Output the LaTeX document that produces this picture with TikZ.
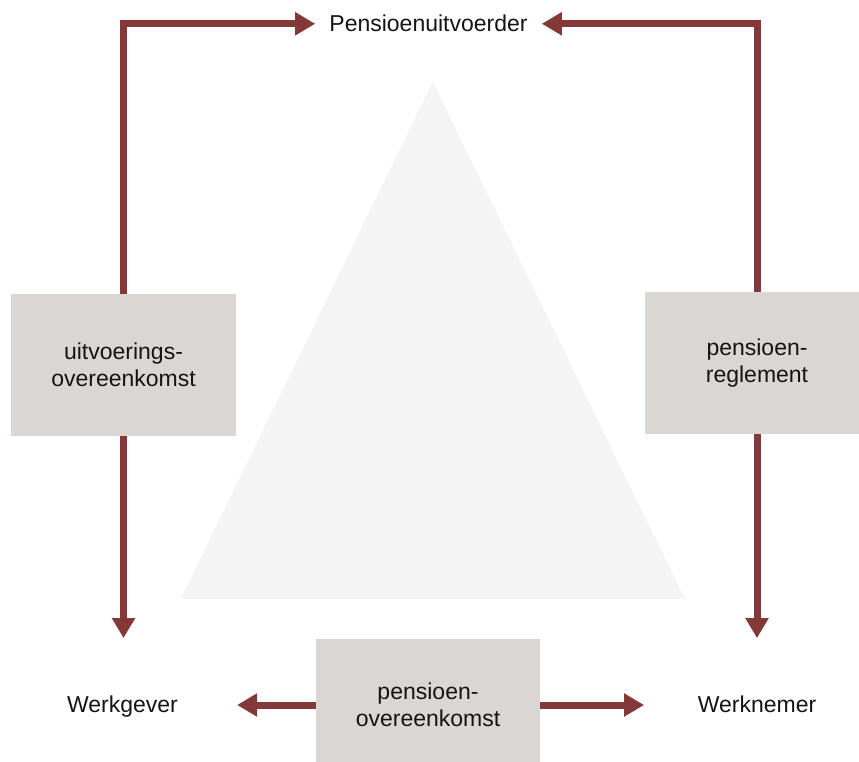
\documentclass[tikz,border=0pt]{standalone}
\usepackage{fontspec}
\setmainfont{Liberation Sans}
\usetikzlibrary{arrows.meta}
\definecolor{arrowred}{RGB}{132,56,56}
\definecolor{boxgrey}{RGB}{217,214,211}
\definecolor{trigrey}{RGB}{245,244,244}
\definecolor{textcol}{RGB}{20,20,20}
\begin{document}
\begin{tikzpicture}[x=1pt,y=-1pt,
  conn/.style={draw=arrowred, line width=7pt, -{Triangle[length=20pt,width=22pt]}},
  boxnode/.style={fill=boxgrey, minimum width=225pt, align=center, inner sep=0pt, text=textcol,
    font=\fontsize{23}{26.5}\selectfont},
  lbl/.style={inner sep=0pt, text=textcol, font=\fontsize{23}{26.5}\selectfont}]
\useasboundingbox (0,0) rectangle (859,762);
\clip (0,0) rectangle (859,762);
% background triangle
\fill[trigrey] (432.8,81.7) -- (685,599) -- (180.7,599) -- cycle;
% boxes
\node[boxnode, minimum height=142pt] (uo) at (123.5,365) {uitvoerings-\\overeenkomst};
\node[boxnode, minimum height=142pt] (pr) at (757,363) {pensioen-\\reglement};
\node[boxnode, minimum height=132pt, minimum width=224pt] (po) at (428,705) {pensioen-\\overeenkomst};
% labels
\node[lbl, anchor=base, inner xsep=14pt] (pu) at (428.5,32) {Pensioenuitvoerder};
\node[lbl, anchor=base] (wg) at (122.5,712) {Werkgever};
\node[lbl, anchor=base] (wn) at (757,712) {Werknemer};
% connectors
\draw[conn] (uo.north) |- (pu.west);
\draw[conn] (pr.north) |- (pu.east);
\draw[conn, shorten >=57pt] (uo.south) -- (uo.south |- wg.north);
\draw[conn, shorten >=57pt] (pr.south) -- (pr.south |- wn.north);
\draw[conn, shorten >=59pt] (po.west) -- (po.west -| wg.east);
\draw[conn, shorten >=53.5pt] (po.east) -- (po.east -| wn.west);
\end{tikzpicture}
\end{document}
